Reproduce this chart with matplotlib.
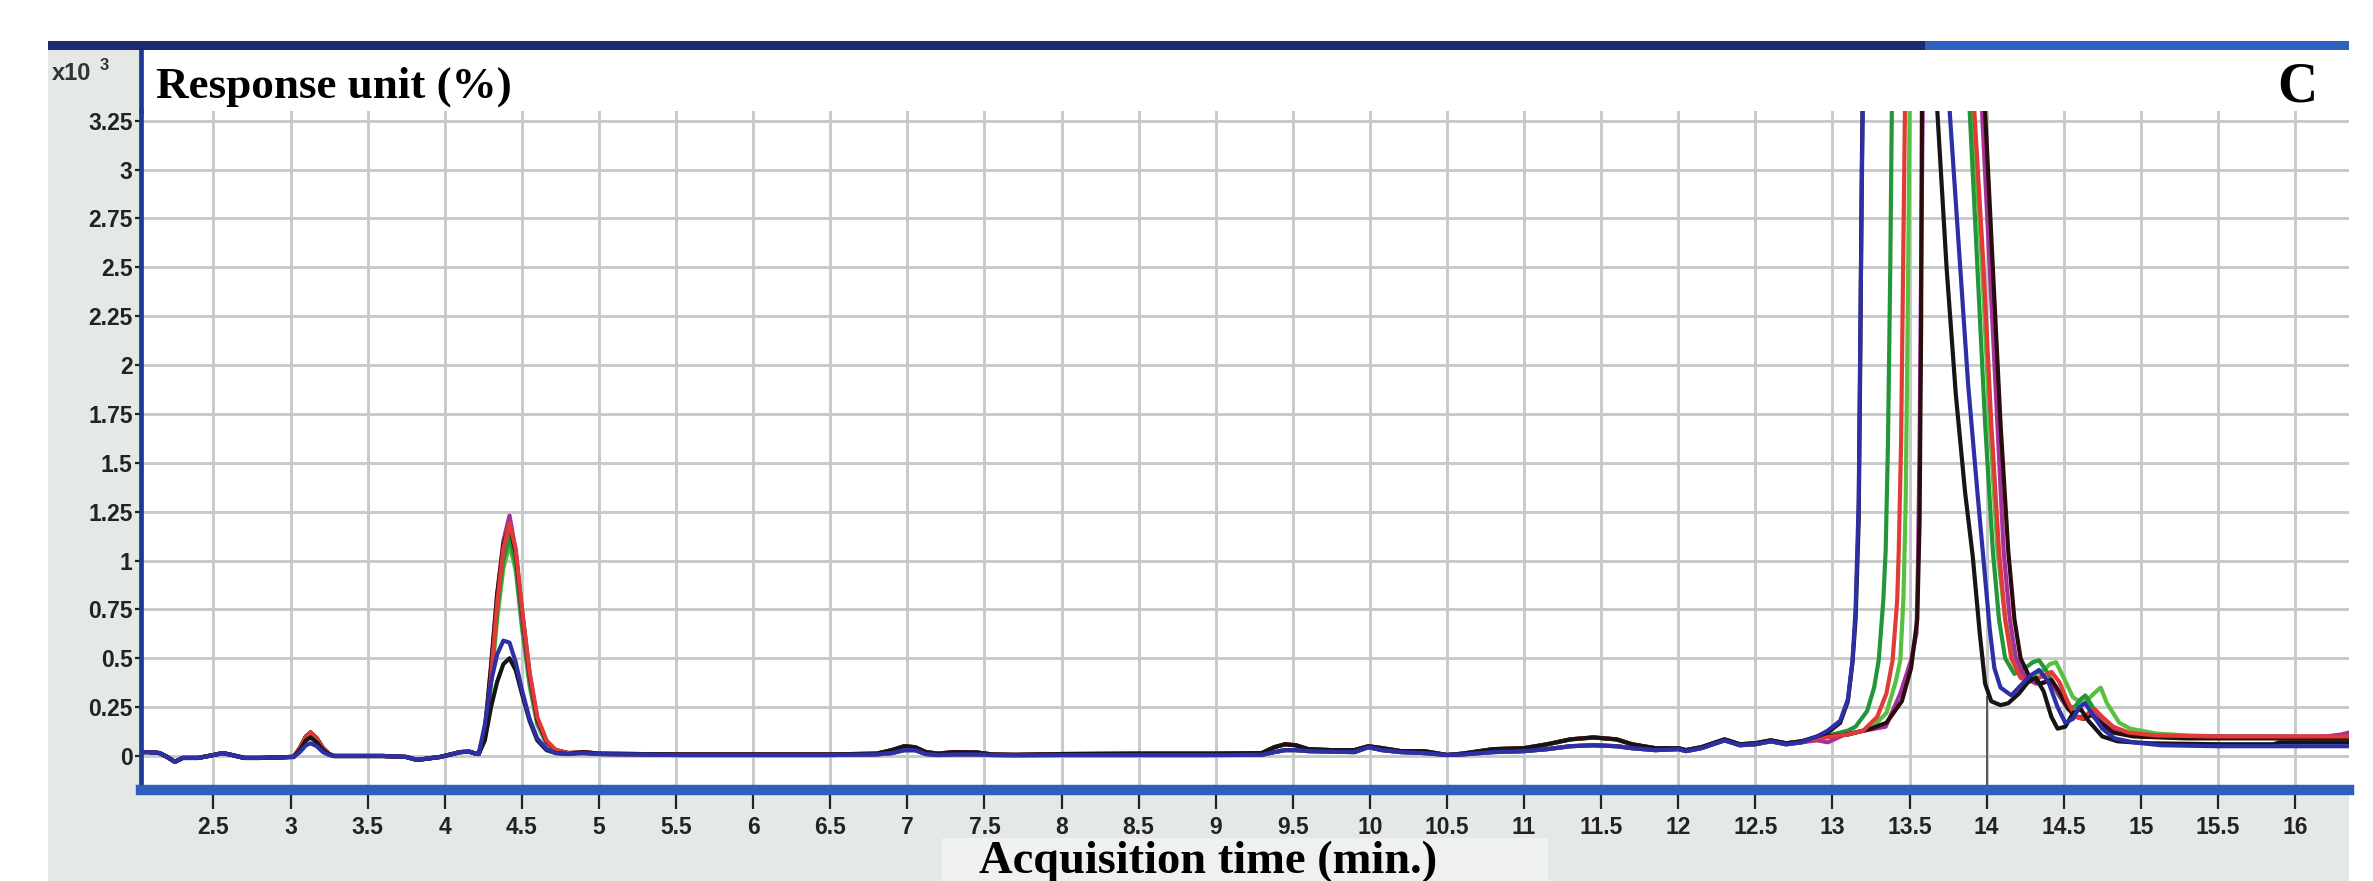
import matplotlib
matplotlib.use("Agg")
import matplotlib.pyplot as plt
from matplotlib.patches import Rectangle
from matplotlib.lines import Line2D

# ------------------------------------------------------------------ data
X_TICKS = [2.5, 3, 3.5, 4, 4.5, 5, 5.5, 6, 6.5, 7, 7.5, 8, 8.5, 9, 9.5, 10,
           10.5, 11, 11.5, 12, 12.5, 13, 13.5, 14, 14.5, 15, 15.5, 16]
X_TICK_LABELS = ["2.5", "3", "3.5", "4", "4.5", "5", "5.5", "6", "6.5", "7",
                 "7.5", "8", "8.5", "9", "9.5", "10", "10.5", "11", "11.5",
                 "12", "12.5", "13", "13.5", "14", "14.5", "15", "15.5", "16"]
Y_TICKS = [0, 0.25, 0.5, 0.75, 1, 1.25, 1.5, 1.75, 2, 2.25, 2.5, 2.75, 3, 3.25]
Y_TICK_LABELS = ["0", "0.25", "0.5", "0.75", "1", "1.25", "1.5", "1.75", "2",
                 "2.25", "2.5", "2.75", "3", "3.25"]

# shared baseline 2.03 - 3.0 min (x10^3 response)
COMMON1_T = [2.03, 2.08, 2.15, 2.2, 2.25, 2.3, 2.4, 2.5, 2.56, 2.62, 2.7, 2.8, 2.9, 3.0]
COMMON1_Y = [0.02, 0.02, 0.015, -0.005, -0.03, -0.01, -0.01, 0.005, 0.015, 0.005,
             -0.01, -0.01, -0.008, -0.005]

# small peak near 3.1 min
P1_T = [3.02, 3.06, 3.1, 3.13, 3.17, 3.21, 3.25, 3.28]
P1_TALL = [-0.005, 0.04, 0.10, 0.12, 0.09, 0.04, 0.01, 0.0]
P1_BLACK = [-0.005, 0.03, 0.08, 0.095, 0.07, 0.03, 0.008, 0.0]
P1_BLUE = [-0.005, 0.02, 0.055, 0.065, 0.05, 0.02, 0.005, 0.0]

# shared baseline 3.35 - 4.2 min
COMMON2_T = [3.35, 3.45, 3.6, 3.75, 3.82, 3.9, 3.97, 4.05, 4.1, 4.16, 4.2]
COMMON2_Y = [0.0, 0.0, 0.0, -0.005, -0.02, -0.012, -0.005, 0.01, 0.02, 0.022, 0.012]

# peak near 4.4 min
P2_T = [4.22, 4.26, 4.30, 4.34, 4.38, 4.42, 4.46, 4.50, 4.55, 4.60, 4.66, 4.72, 4.8]
P2_MAGENTA = [0.01, 0.12, 0.45, 0.82, 1.10, 1.23, 1.05, 0.72, 0.40, 0.18, 0.07, 0.03, 0.015]
P2_RED = [0.01, 0.10, 0.40, 0.78, 1.06, 1.19, 1.06, 0.76, 0.43, 0.20, 0.08, 0.03, 0.015]
P2_GREEN = [0.01, 0.10, 0.38, 0.74, 1.00, 1.12, 0.98, 0.68, 0.38, 0.17, 0.07, 0.03, 0.015]
P2_LIGHTGREEN = [0.01, 0.09, 0.36, 0.70, 0.96, 1.08, 0.95, 0.66, 0.36, 0.16, 0.06, 0.025, 0.015]
P2_DARK = [0.01, 0.13, 0.46, 0.83, 1.08, 1.18, 1.04, 0.75, 0.42, 0.19, 0.075, 0.03, 0.015]
P2_BLUE = [0.01, 0.16, 0.38, 0.52, 0.59, 0.58, 0.48, 0.34, 0.19, 0.09, 0.035, 0.015, 0.01]
P2_BLACK = [0.01, 0.08, 0.25, 0.38, 0.47, 0.50, 0.44, 0.32, 0.18, 0.08, 0.03, 0.015, 0.01]

# shared baseline 4.9 - 12.8 min (low traces / raised traces)
MID_T = [4.9, 5.0, 5.5, 6.0, 6.5, 6.8, 6.9, 6.98, 7.05, 7.12, 7.2, 7.3, 7.45, 7.55,
         7.7, 8.0, 8.5, 9.0, 9.3, 9.38, 9.45, 9.52, 9.6, 9.75, 9.9, 9.99, 10.08,
         10.2, 10.35, 10.5, 10.6, 10.8, 11.0, 11.15, 11.3, 11.45, 11.6, 11.7,
         11.85, 12.0, 12.05, 12.15, 12.3, 12.4, 12.5, 12.6, 12.7, 12.8]
MID_LOW = [0.015, 0.01, 0.005, 0.005, 0.005, 0.008, 0.015, 0.03, 0.03, 0.01, 0.005,
           0.008, 0.008, 0.005, 0.004, 0.005, 0.005, 0.005, 0.006, 0.02, 0.03, 0.03,
           0.025, 0.022, 0.02, 0.045, 0.03, 0.02, 0.015, 0.005, 0.008, 0.02, 0.025,
           0.035, 0.05, 0.055, 0.05, 0.04, 0.03, 0.035, 0.025, 0.04, 0.08, 0.055,
           0.06, 0.075, 0.06, 0.07]
MID_HIGH = [0.02, 0.012, 0.008, 0.008, 0.008, 0.012, 0.03, 0.05, 0.045, 0.02, 0.012,
            0.02, 0.018, 0.008, 0.006, 0.01, 0.012, 0.012, 0.015, 0.045, 0.06, 0.055,
            0.035, 0.03, 0.03, 0.05, 0.04, 0.025, 0.025, 0.005, 0.012, 0.035, 0.04,
            0.06, 0.085, 0.095, 0.085, 0.06, 0.04, 0.04, 0.03, 0.045, 0.085, 0.06,
            0.065, 0.08, 0.065, 0.075]

# main (overloaded) peak 12.9 - 16.35 min, per trace
TAIL_BLUE_T = [12.9, 12.97, 13.05, 13.10, 13.13, 13.15, 13.17, 13.185, 13.2,
               13.74, 13.76, 13.82, 13.88, 13.94, 13.98, 14.02, 14.05, 14.09, 14.16,
               14.22, 14.28, 14.34, 14.40, 14.46, 14.51, 14.56, 14.60, 14.64, 14.68,
               14.75, 14.83, 14.95, 15.13, 15.5, 16.0, 16.35]
TAIL_BLUE_Y = [0.10, 0.13, 0.18, 0.29, 0.49, 0.75, 1.3, 2.5, 3.6,
               3.5, 3.3, 2.6, 1.9, 1.35, 1.0, 0.65, 0.45, 0.35, 0.31,
               0.36, 0.41, 0.44, 0.38, 0.25, 0.17, 0.19, 0.25, 0.27, 0.22,
               0.14, 0.09, 0.07, 0.055, 0.05, 0.05, 0.05]

TAIL_BLACK_T = [12.9, 12.97, 13.05, 13.10, 13.13, 13.15, 13.17, 13.18, 13.19, 13.20,
                13.66, 13.68, 13.74, 13.80, 13.86, 13.91, 13.955, 13.99, 14.03, 14.09,
                14.14, 14.21, 14.27, 14.32, 14.37, 14.42, 14.46, 14.51, 14.56, 14.61,
                14.66, 14.75, 14.85, 15.06, 15.5, 15.86, 15.9, 16.35]
TAIL_BLACK_Y = [0.10, 0.12, 0.17, 0.28, 0.48, 0.70, 1.2, 2.0, 3.0, 3.6,
                3.5, 3.3, 2.5, 1.85, 1.35, 1.02, 0.63, 0.37, 0.28, 0.26,
                0.27, 0.32, 0.38, 0.40, 0.33, 0.20, 0.14, 0.15, 0.22, 0.24,
                0.18, 0.10, 0.075, 0.065, 0.06, 0.06, 0.07, 0.07]

TAIL_GREEN_T = [12.9, 13.0, 13.1, 13.15, 13.225, 13.27, 13.30, 13.33, 13.345, 13.36,
                13.375, 13.385, 13.39,
                13.87, 13.89, 13.94, 13.99, 14.04, 14.08, 14.12, 14.18, 14.25, 14.30,
                14.34, 14.40, 14.46, 14.52, 14.57, 14.61, 14.64, 14.68, 14.75, 14.85,
                15.0, 15.3, 16.35]
TAIL_GREEN_Y = [0.09, 0.11, 0.13, 0.15, 0.23, 0.35, 0.49, 0.8, 1.05, 1.6,
                2.5, 3.3, 3.6,
                3.5, 3.3, 2.5, 1.7, 1.05, 0.7, 0.5, 0.42, 0.45, 0.48,
                0.49, 0.42, 0.32, 0.25, 0.25, 0.29, 0.31, 0.26, 0.17, 0.12,
                0.10, 0.095, 0.09]

TAIL_LIGHTGREEN_T = [12.9, 13.1, 13.25, 13.35, 13.41, 13.44, 13.46, 13.475, 13.49,
                     13.50, 13.51,
                     13.89, 13.91, 13.97, 14.02, 14.07, 14.12, 14.17, 14.23, 14.30,
                     14.37, 14.41, 14.45, 14.50, 14.56, 14.62, 14.67, 14.71, 14.74,
                     14.78, 14.86, 14.93, 15.1, 15.3, 15.56, 16.35]
TAIL_LIGHTGREEN_Y = [0.09, 0.11, 0.14, 0.22, 0.38, 0.49, 0.8, 1.3, 2.4,
                     3.3, 3.6,
                     3.5, 3.3, 2.5, 1.7, 1.05, 0.7, 0.5, 0.42, 0.41,
                     0.44, 0.47, 0.48, 0.40, 0.30, 0.27, 0.30, 0.33, 0.35,
                     0.27, 0.17, 0.14, 0.115, 0.105, 0.10, 0.095]

TAIL_RED_T = [12.9, 13.0, 13.1, 13.2, 13.29, 13.35, 13.39, 13.42, 13.43, 13.445,
              13.46, 13.47, 13.48,
              13.90, 13.92, 13.98, 14.03, 14.08, 14.12, 14.16, 14.22, 14.28, 14.34,
              14.42, 14.47, 14.53, 14.58, 14.62, 14.66, 14.70, 14.75, 14.82, 14.92,
              15.1, 15.5, 16.35]
TAIL_RED_Y = [0.09, 0.10, 0.11, 0.13, 0.20, 0.32, 0.49, 0.8, 1.05, 1.6,
              2.6, 3.3, 3.6,
              3.5, 3.3, 2.5, 1.7, 1.05, 0.7, 0.5, 0.40, 0.38, 0.40,
              0.43, 0.38, 0.27, 0.20, 0.19, 0.22, 0.24, 0.20, 0.15, 0.12,
              0.105, 0.10, 0.10]

TAIL_MAGENTA_T = [12.9, 12.97, 13.08, 13.21, 13.345, 13.44, 13.51, 13.545, 13.555,
                  13.565, 13.575, 13.585, 13.59,
                  13.95, 13.97, 14.02, 14.07, 14.11, 14.15, 14.19, 14.25, 14.32,
                  14.40, 14.45, 14.52, 14.58, 14.64, 14.69, 14.76, 14.85, 15.0,
                  15.5, 16.2, 16.3, 16.35]
TAIL_MAGENTA_Y = [0.08, 0.07, 0.11, 0.13, 0.15, 0.32, 0.49, 0.63, 1.0,
                  1.6, 2.5, 3.3, 3.6,
                  3.5, 3.3, 2.5, 1.7, 1.05, 0.7, 0.5, 0.40, 0.37,
                  0.38, 0.34, 0.25, 0.20, 0.20, 0.22, 0.16, 0.12, 0.105,
                  0.10, 0.10, 0.11, 0.12]

TAIL_DARK_T = [12.9, 13.1, 13.25, 13.35, 13.45, 13.51, 13.55, 13.565, 13.575, 13.58,
               13.59,
               13.97, 13.99, 14.04, 14.09, 14.14, 14.18, 14.22, 14.28, 14.35, 14.42,
               14.47, 14.53, 14.58, 14.63, 14.68, 14.74, 14.82, 14.95, 15.3, 16.35]
TAIL_DARK_Y = [0.095, 0.11, 0.14, 0.17, 0.28, 0.45, 0.7, 1.2, 2.2, 3.3,
               3.6,
               3.5, 3.3, 2.5, 1.7, 1.05, 0.7, 0.5, 0.40, 0.37, 0.39,
               0.33, 0.24, 0.20, 0.19, 0.21, 0.17, 0.12, 0.10, 0.09, 0.09]

CURSOR_X = 14.0
CURSOR_TOP = 0.3

# ------------------------------------------------------------ figure
W, H, DPI = 2373, 881, 100
fig = plt.figure(figsize=(W / DPI, H / DPI), dpi=DPI, facecolor="white")

def fx(px):
    return px / W

def fy(py):
    return 1 - py / H

PANEL = "#e4e9e6"
LEFT_PX, RIGHT_PX = 141, 2349
TOP_DATA_PX, BOTTOM_PX = 111, 790

# gray instrument panel (behind everything)
fig.patches.append(Rectangle((fx(48), fy(881)), fx(RIGHT_PX - 48), (881 - 41) / H,
                             transform=fig.transFigure, facecolor=PANEL,
                             edgecolor="none", zorder=-10))
# lighter box behind x-label
fig.patches.append(Rectangle((fx(942), fy(881)), fx(1548 - 942), (881 - 838) / H,
                             transform=fig.transFigure, facecolor="#eef1ef",
                             edgecolor="none", zorder=-9))

# title band (white) above data area
tax = fig.add_axes([fx(LEFT_PX), fy(TOP_DATA_PX), fx(RIGHT_PX - LEFT_PX),
                    (TOP_DATA_PX - 49) / H])
tax.set_facecolor("white")
tax.set_xticks([])
tax.set_yticks([])
for s in ["top", "right", "bottom", "left"]:
    tax.spines[s].set_visible(False)

# main data axes
ax = fig.add_axes([fx(LEFT_PX), fy(BOTTOM_PX), fx(RIGHT_PX - LEFT_PX),
                   (BOTTOM_PX - TOP_DATA_PX) / H])
ax.set_facecolor("white")
ax.set_xlim(2.03, 16.35)
ax.set_ylim(-0.174, 3.30)

ax.set_xticks(X_TICKS)
ax.set_yticks(Y_TICKS)
tick_font = dict(family=["Liberation Sans Narrow", "Liberation Sans", "DejaVu Sans"],
                 weight="bold", size=16.5, color="#222222")
ax.set_xticklabels(X_TICK_LABELS, **tick_font)
ax.set_yticklabels(Y_TICK_LABELS, **tick_font)
ax.tick_params(axis="x", direction="out", length=14, width=1.6, color="#222222", pad=5)
ax.tick_params(axis="y", direction="out", length=4.5, width=1.6, color="#222222", pad=1.5)
ax.grid(True, color="#c6cbc9", linewidth=2.1, zorder=0)
ax.set_axisbelow(True)

for s in ["top", "right"]:
    ax.spines[s].set_visible(False)
ax.spines["left"].set_color("#1b3a96")
ax.spines["left"].set_linewidth(3.4)
ax.spines["bottom"].set_color("#2c5fbe")
ax.spines["bottom"].set_linewidth(7.5)

# left blue line through title band + top bar
fig.lines.append(Line2D([fx(LEFT_PX), fx(LEFT_PX)], [fy(46), fy(TOP_DATA_PX)],
                        transform=fig.transFigure, color="#1b3a96", linewidth=3.4,
                        zorder=5))
fig.patches.append(Rectangle((fx(48), fy(50)), fx(1925 - 48), 9 / H,
                             transform=fig.transFigure, facecolor="#1c2b70",
                             edgecolor="none", zorder=5))
fig.patches.append(Rectangle((fx(1925), fy(50)), fx(RIGHT_PX - 1925), 9 / H,
                             transform=fig.transFigure, facecolor="#2d62c2",
                             edgecolor="none", zorder=5))

# cursor line at 14 min
ax.plot([CURSOR_X, CURSOR_X], [-0.174, CURSOR_TOP], color="#555555",
        linewidth=1.4, zorder=1)

# traces
def trace(p1, p2, mid, tail_t, tail_y):
    t = COMMON1_T + P1_T + COMMON2_T + P2_T + MID_T + tail_t
    y = COMMON1_Y + p1 + COMMON2_Y + p2 + mid + tail_y
    return t, y

SERIES = [
    ("#56c040", P1_TALL, P2_LIGHTGREEN, MID_LOW, TAIL_LIGHTGREEN_T, TAIL_LIGHTGREEN_Y),
    ("#23963a", P1_TALL, P2_GREEN, MID_LOW, TAIL_GREEN_T, TAIL_GREEN_Y),
    ("#a4309c", P1_TALL, P2_MAGENTA, MID_LOW, TAIL_MAGENTA_T, TAIL_MAGENTA_Y),
    ("#2a0c0c", P1_TALL, P2_DARK, MID_HIGH, TAIL_DARK_T, TAIL_DARK_Y),
    ("#e23a36", P1_TALL, P2_RED, MID_HIGH, TAIL_RED_T, TAIL_RED_Y),
    ("#151515", P1_BLACK, P2_BLACK, MID_HIGH, TAIL_BLACK_T, TAIL_BLACK_Y),
    ("#2c2fa6", P1_BLUE, P2_BLUE, MID_LOW, TAIL_BLUE_T, TAIL_BLUE_Y),
]
for i, (col, p1, p2, mid, tt, ty) in enumerate(SERIES):
    t, y = trace(p1, p2, mid, tt, ty)
    ax.plot(t, y, color=col, linewidth=3.0, solid_joinstyle="round", zorder=2 + i)

# texts
serif = dict(family=["Liberation Serif", "DejaVu Serif"], weight="bold", color="black")
fig.text(fx(156), fy(98), "Response unit (%)", ha="left", va="baseline",
         fontsize=32.5, zorder=6, **serif)
fig.text(fx(2297), fy(102), "C", ha="center", va="baseline", fontsize=40, zorder=6,
         **serif)
fig.text(fx(1208), fy(873), "Acquisition time (min.)", ha="center", va="baseline",
         fontsize=33.5, zorder=6, **serif)
small = dict(family=["Liberation Sans Narrow", "Liberation Sans", "DejaVu Sans"],
             weight="bold", color="#333333")
fig.text(fx(52), fy(80), "x10", ha="left", va="baseline", fontsize=17, zorder=6, **small)
fig.text(fx(100), fy(70), "3", ha="left", va="baseline", fontsize=12, zorder=6, **small)

fig.savefig("out.png", dpi=DPI, facecolor="white")
